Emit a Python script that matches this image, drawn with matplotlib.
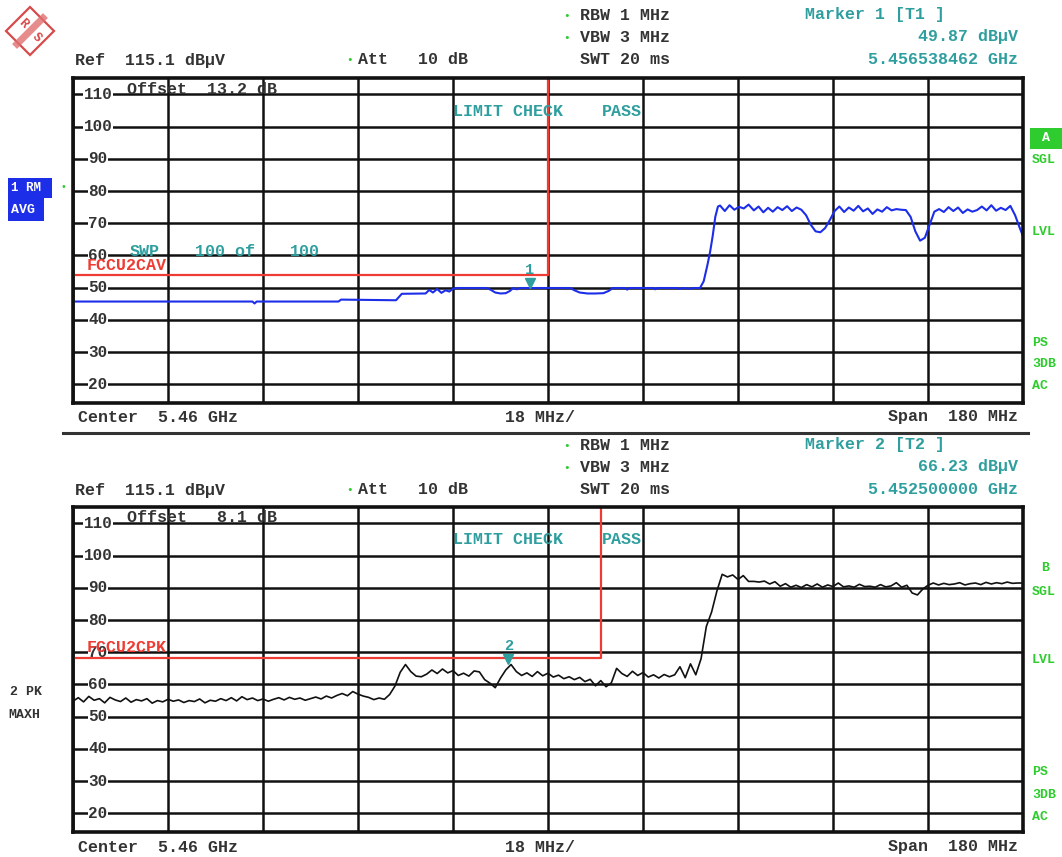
import numpy as np
import matplotlib
matplotlib.use('Agg')
import matplotlib.pyplot as plt
import matplotlib.transforms as mtransforms
from matplotlib.patches import Polygon, Rectangle
from matplotlib.lines import Line2D

plt.rcParams['font.family'] = ['Liberation Mono', 'DejaVu Sans Mono']

# ---------------- data ----------------
f_start, f_stop = 5.37, 5.55          # GHz (center 5.46, span 180 MHz)
ref_level = 115.1                      # dBuV
y_bottom = 14.2
y_ticks = [110, 100, 90, 80, 70, 60, 50, 40, 30, 20]
x_div_mhz = 18

# Trace 1 (RM AVG, blue): (offset MHz from start, level dBuV)
t1_points = [
    (0, 45.7), (34.0, 45.7), (34.4, 45.1), (34.8, 45.7), (50.3, 45.7), (50.8, 46.3),
    (61.2, 46.1), (62.3, 48.1), (66.8, 48.2), (67.5, 49.3), (68.2, 48.5), (69.0, 49.6),
    (69.8, 48.4), (70.6, 49.2), (71.3, 48.8), (72.0, 49.7), (72.8, 49.9), (78.4, 49.9),
    (79.2, 49.3), (80.0, 48.5), (81.0, 48.2), (82.0, 48.3), (82.8, 49.0), (83.4, 49.9),
    (84.1, 49.5), (84.7, 49.9), (94.2, 49.9), (95.0, 49.2), (96.0, 48.5), (97.5, 48.2),
    (99.0, 48.2), (100.5, 48.3), (101.5, 49.0), (102.3, 49.9), (104.6, 49.9), (105.0, 49.4),
    (105.4, 49.9), (110.0, 49.9), (110.3, 49.5), (110.7, 49.9), (114.5, 49.9), (115.0, 49.6),
    (115.5, 49.9), (117.0, 49.7), (117.5, 49.9), (118.8, 49.9), (119.5, 52.0), (120.2, 57.0),
    (120.7, 61.0), (121.2, 66.0), (121.7, 72.0), (122.2, 75.2),
    (122.6, 75.5), (123.5, 73.8), (124.4, 75.6), (125.3, 74.2), (126.2, 75.1), (127.1, 74.6),
    (128.0, 75.8), (129.0, 74.0), (129.9, 75.2), (130.8, 73.4), (131.7, 74.8), (132.6, 73.6),
    (133.5, 75.0), (134.4, 74.1), (135.3, 75.3), (136.2, 73.8), (137.1, 74.9), (138.0, 74.2),
    (138.9, 72.5), (139.8, 69.5), (140.7, 67.5), (141.6, 67.2), (142.5, 68.5), (143.4, 71.0),
    (144.3, 73.8), (145.2, 75.2), (146.1, 73.5), (147.0, 74.9), (147.9, 73.9), (148.8, 75.4),
    (149.7, 73.7), (150.6, 74.6), (151.5, 72.9), (152.4, 74.3), (153.3, 73.6), (154.2, 75.0),
    (155.1, 74.0), (156.0, 74.4), (156.9, 74.2), (157.8, 74.1), (158.7, 72.0), (159.6, 67.5),
    (160.5, 64.6), (161.4, 65.5), (162.3, 69.5), (163.2, 73.6), (164.1, 74.4), (165.0, 73.5),
    (165.9, 75.0), (166.8, 73.8), (167.7, 74.9), (168.6, 73.2), (169.5, 74.3), (170.4, 73.6),
    (171.3, 74.1), (172.2, 75.2), (173.1, 74.0), (174.0, 75.6), (174.9, 73.9), (175.8, 74.8),
    (176.7, 74.1), (177.6, 75.4), (178.5, 72.5), (179.4, 68.5), (180.0, 66.0),
]

# Trace 2 (PK MAXH, black): levels at 1 MHz steps from start (0..180 MHz)
t2_levels = [
    54.8, 55.9, 54.6, 56.3, 55.1, 55.6, 54.3, 56.0, 55.2, 54.7,
    55.8, 54.5, 55.3, 54.9, 55.6, 54.2, 55.0, 54.6, 55.4, 54.8,
    55.2, 54.4, 55.0, 54.7, 55.5, 54.3, 55.1, 54.8, 55.6, 55.0,
    55.9, 54.9, 56.2, 55.3, 55.8, 55.0, 55.5, 54.8, 55.4, 55.9,
    55.2, 56.0, 55.4, 55.8, 55.1, 55.6, 56.1, 55.5, 56.4, 55.8,
    56.6, 57.2, 56.5, 57.8, 57.0, 56.4, 56.0, 55.3, 55.8, 55.4,
    56.9, 59.5, 63.8, 66.2, 64.0, 62.6, 62.4, 63.2, 64.5, 63.4,
    64.8, 63.6, 64.3, 62.8, 63.5, 62.6, 64.2, 63.9, 61.5, 60.4,
    59.0, 62.0, 64.5, 66.2, 64.0, 62.8, 63.6, 62.5, 64.0, 62.7,
    63.5, 62.3, 62.9, 61.8, 62.4, 61.5, 62.2, 60.9, 61.6, 59.6,
    61.2, 59.3, 60.5, 65.0, 63.4, 62.5, 64.1, 62.8, 63.7, 62.3,
    63.0, 62.0, 63.1, 62.4, 63.0, 65.5, 62.1, 66.4, 63.0, 68.0,
    78.0, 82.5, 89.0, 94.2, 93.4, 94.0, 92.6, 93.8, 92.0, 92.0,
    91.8, 92.1, 91.2, 91.9, 90.5, 91.3, 90.2, 90.8, 90.1, 91.0,
    90.3, 91.2, 90.2, 90.9, 90.4, 91.5, 90.3, 90.6, 90.2, 91.1,
    90.4, 90.5, 90.2, 91.0, 90.3, 90.6, 91.6, 90.2, 90.8, 88.4,
    87.8, 89.6, 90.8, 91.5, 90.9, 91.4, 91.0, 91.2, 91.6, 90.9,
    91.3, 91.5, 91.0, 91.7, 91.2, 91.6, 91.3, 91.8, 91.4, 91.5,
    91.5,
]

# Limit lines
limit1_stop_ghz, limit1_level = 5.46, 54.0      # FCCU2CAV
limit2_stop_ghz, limit2_level = 5.47, 68.2      # FCCU2CPK

# Markers
marker1_ghz, marker1_level = 5.456538462, 49.87
marker2_ghz, marker2_level = 5.4525, 66.23

# ---------------- figure ----------------
W, H = 1062, 857
fig = plt.figure(figsize=(W / 100, H / 100), dpi=100)
fig.patch.set_facecolor('white')

TXT = '#333333'
TEAL = '#2f9e9e'
RED = '#ee3b33'
GREEN = '#2ecc2e'
BLUE = '#1c2ee8'
FS = 12


def fx(x):
    return x / W


def fy(y):
    return 1 - y / H


def ftext(x, y, s, ha='left', va='center', color=TXT, size=FS, weight='bold', **kw):
    fig.text(fx(x), fy(y), s, ha=ha, va=va, color=color, fontsize=size,
             fontweight=weight, **kw)


def make_axes(top_px):
    ax = fig.add_axes([fx(73), fy(top_px + 325), 950 / W, 325 / H])
    ax.set_xlim(f_start, f_stop)
    ax.set_ylim(y_bottom, ref_level)
    xt = [f_start + i * x_div_mhz / 1000 for i in range(11)]
    ax.set_xticks(xt)
    ax.set_yticks(y_ticks)
    ax.tick_params(left=False, bottom=False, labelleft=False, labelbottom=False)
    ax.grid(True, color='#111111', lw=1.8, zorder=1)
    for sp in ax.spines.values():
        sp.set_linewidth(2.6)
        sp.set_color('#111111')
        sp.set_zorder(6)
    tr = mtransforms.blended_transform_factory(ax.transAxes, ax.transData)
    for v in y_ticks:
        ax.text(25 / 950, v, str(v), transform=tr, ha='center', va='center',
                fontsize=11.5, fontweight='bold', color=TXT, zorder=3,
                bbox=dict(facecolor='white', edgecolor='none', pad=0.5))
    return ax


ax1 = make_axes(78)
ax2 = make_axes(507)

# traces
t1_f = [f_start + p[0] / 1000 for p in t1_points]
t1_v = [p[1] for p in t1_points]
ax1.plot(t1_f, t1_v, color=BLUE, lw=1.5, zorder=4)

t2_f = [f_start + i / 1000 for i in range(len(t2_levels))]
ax2.plot(t2_f, t2_levels, color='#111111', lw=1.2, zorder=4)

# limit lines
ax1.plot([f_start, limit1_stop_ghz, limit1_stop_ghz], [limit1_level, limit1_level, ref_level],
         color=RED, lw=1.6, zorder=3.5, clip_on=False)
ax2.plot([f_start, limit2_stop_ghz, limit2_stop_ghz], [limit2_level, limit2_level, ref_level],
         color=RED, lw=1.6, zorder=3.5, clip_on=False)

# markers
for ax, mf, mv, lab in [(ax1, marker1_ghz, marker1_level, '1'),
                        (ax2, marker2_ghz, marker2_level, '2')]:
    tri = mtransforms.offset_copy(ax.transData, fig=fig, x=0, y=5, units='dots')
    ax.plot([mf], [mv], marker='v', color=TEAL, markersize=7, transform=tri, zorder=5)
    num = mtransforms.offset_copy(ax.transData, fig=fig, x=0, y=18, units='dots')
    ax.text(mf, mv, lab, transform=num, ha='center', va='center', color=TEAL,
            fontsize=11, fontweight='bold', zorder=5)

# in-plot texts
for ax, top, off, lname, lname_y in [(ax1, 78, 'Offset  13.2 dB', 'FCCU2CAV', 265),
                                     (ax2, 507, 'Offset   8.1 dB', 'FCCU2CPK', 647)]:
    ftext(127, top + 11, off, zorder=7)
    ftext(453, top + 33, 'LIMIT CHECK', color=TEAL)
    ftext(602, top + 33, 'PASS', color=TEAL)
    ftext(87, lname_y, lname, color=RED)

ftext(130, 251, 'SWP', color=TEAL)
ftext(195, 251, '100 of', color=TEAL)
ftext(290, 251, '100', color=TEAL)

# header blocks
for base, mk, mval, mfreq in [(0, 'Marker 1 [T1 ]', '49.87 dBµV', '5.456538462 GHz'),
                              (430, 'Marker 2 [T2 ]', '66.23 dBµV', '5.452500000 GHz')]:
    ftext(567, base + 16, '•', color=GREEN, size=8, ha='center')
    ftext(580, base + 16, 'RBW 1 MHz')
    ftext(567, base + 38, '•', color=GREEN, size=8, ha='center')
    ftext(580, base + 38, 'VBW 3 MHz')
    ftext(580, base + 60, 'SWT 20 ms')
    ftext(805, base + 14, mk, color=TEAL)
    ftext(1018, base + 37, mval, color=TEAL, ha='right')
    ftext(1018, base + 60, mfreq, color=TEAL, ha='right')
    ftext(75, base + 60, 'Ref  115.1 dBµV')
    ftext(350, base + 60, '•', color=GREEN, size=8, ha='center')
    ftext(358, base + 60, 'Att   10 dB')

# footer rows
for y in (417, 847):
    ftext(78, y, 'Center  5.46 GHz')
    ftext(540, y, '18 MHz/', ha='center')
    ftext(1018, y, 'Span  180 MHz', ha='right')

# separator
fig.add_artist(Line2D([fx(63), fx(1028)], [fy(433), fy(433)], color='#333333', lw=2.2))

# left trace labels
fig.add_artist(Rectangle((fx(8), fy(198)), 44 / W, 20 / H, facecolor=BLUE, edgecolor='none'))
fig.add_artist(Rectangle((fx(8), fy(221)), 36 / W, 24 / H, facecolor=BLUE, edgecolor='none'))
ftext(11, 188, '1 RM', color='white', size=9)
ftext(11, 210, 'AVG', color='white', size=9.5)
ftext(63, 187, '•', color=GREEN, size=7, ha='center')
ftext(10, 692, '2 PK', size=9.5)
ftext(8, 715, 'MAXH', size=9.5)

# right status labels
fig.add_artist(Rectangle((fx(1030), fy(149)), 32 / W, 21 / H, facecolor=GREEN, edgecolor='none'))
ftext(1046, 138, 'A', color='white', size=9.5, ha='center')
for y, s in [(160, 'SGL'), (232, 'LVL'), (343, 'PS'), (364, '3DB'), (386, 'AC')]:
    ftext(1032, y, s, color=GREEN, size=9.5)
ftext(1045, 568, 'B', color=GREEN, size=9.5, ha='center')
for y, s in [(592, 'SGL'), (660, 'LVL'), (772, 'PS'), (795, '3DB'), (817, 'AC')]:
    ftext(1032, y, s, color=GREEN, size=9.5)

# R&S logo
cx, cy, r = 30, 31, 24
fig.add_artist(Polygon([(fx(cx), fy(cy - r)), (fx(cx + r), fy(cy)), (fx(cx), fy(cy + r)),
                        (fx(cx - r), fy(cy))], closed=True, facecolor='none',
                       edgecolor='#d84a4a', lw=1.6))
fig.add_artist(Line2D([fx(cx - 13), fx(cx + 13)], [fy(cy + 13), fy(cy - 13)],
                      color='#e07070', lw=5, alpha=0.8))
ftext(cx - 7, cy - 7, 'R', color='#d84a4a', size=9, ha='center', rotation=-45)
ftext(cx + 7, cy + 7, 'S', color='#d84a4a', size=9, ha='center', rotation=-45)

fig.savefig('out.png', dpi=100, facecolor='white')
